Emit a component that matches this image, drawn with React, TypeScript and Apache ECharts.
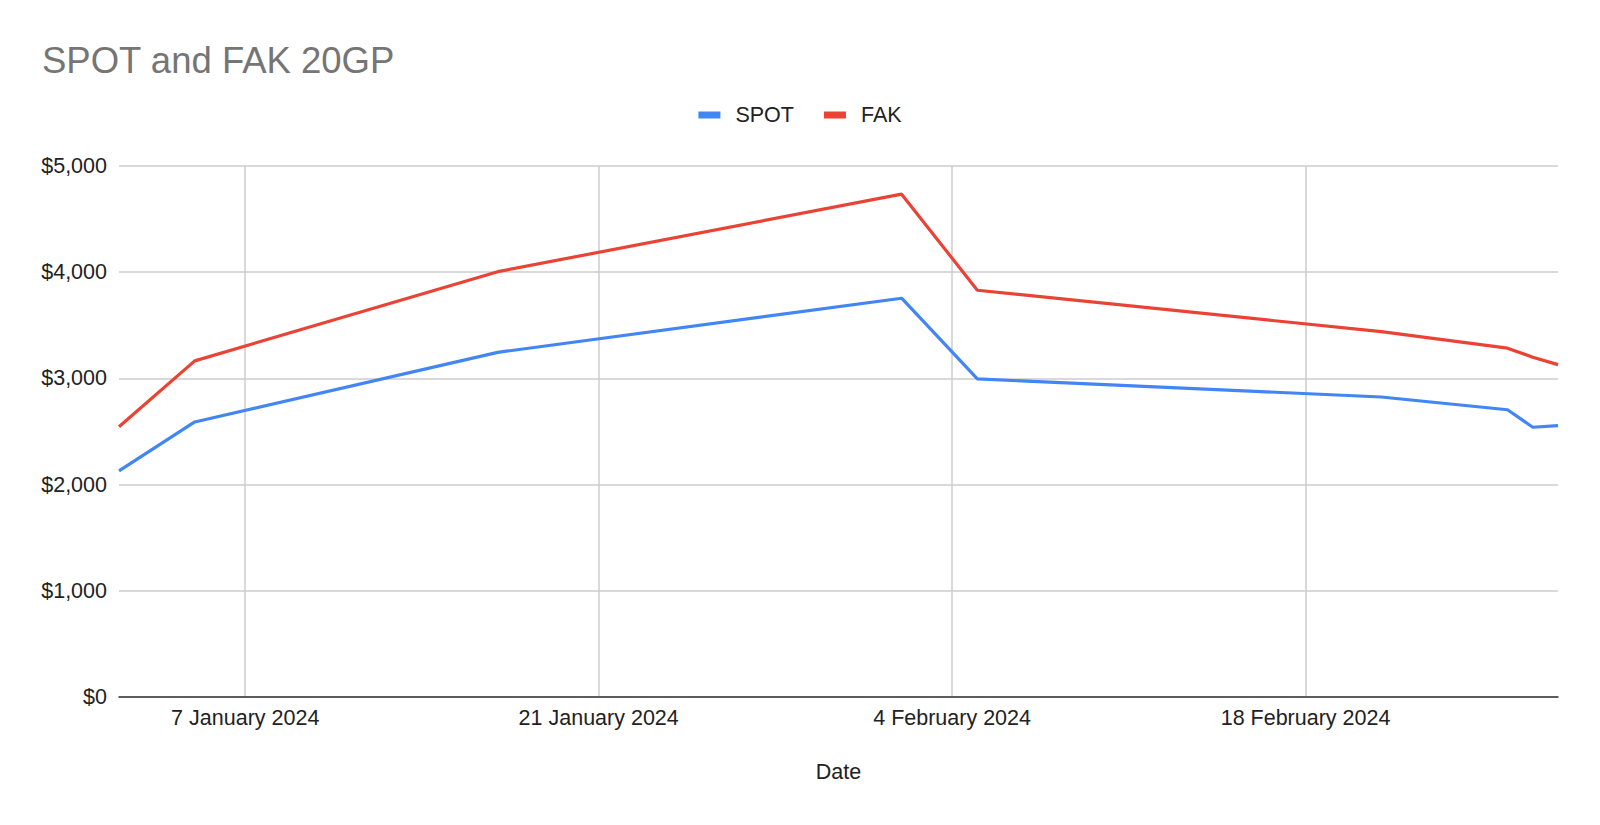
import React, { useEffect, useRef } from "react";
import * as echarts from "echarts";

const FONT = "'Liberation Sans', Arial, sans-serif";

// one category per day, first and last day of the axis
const FIRST_DAY = "2024-01-02";
const LAST_DAY = "2024-02-28";

const POINT_DATES = [
  "2024-01-02", "2024-01-05", "2024-01-17", "2024-02-02", "2024-02-05",
  "2024-02-21", "2024-02-26", "2024-02-27", "2024-02-28",
];
const SPOT = [2130, 2590, 3245, 3755, 2995, 2825, 2705, 2540, 2555];
const FAK = [2545, 3165, 4005, 4735, 3830, 3440, 3285, 3200, 3130];

const TICK_DATES = ["2024-01-07", "2024-01-21", "2024-02-04", "2024-02-18"];
const TICK_LABELS = ["7 January 2024", "21 January 2024", "4 February 2024", "18 February 2024"];

function dayList(from: string, to: string) {
  const out: string[] = [];
  const d = new Date(from + "T00:00:00Z");
  const end = new Date(to + "T00:00:00Z");
  while (d <= end) {
    out.push(d.toISOString().slice(0, 10));
    d.setUTCDate(d.getUTCDate() + 1);
  }
  return out;
}

const isTick = (_i: number, value: string) => TICK_DATES.indexOf(value) >= 0;

export default function App() {
  const ref = useRef<HTMLDivElement>(null);

  useEffect(() => {
    document.body.style.margin = "0";
    if (!ref.current) return;
    const chart = echarts.init(ref.current, undefined, { renderer: "svg" });
    const days = dayList(FIRST_DAY, LAST_DAY);

    chart.setOption({
      animation: false,
      backgroundColor: "#ffffff",
      title: {
        text: "SPOT and FAK 20GP",
        left: 37,
        top: 37,
        textStyle: { color: "#757575", fontSize: 36.5, fontWeight: "normal", fontFamily: FONT },
      },
      legend: {
        top: 99,
        left: "center",
        itemWidth: 22,
        itemHeight: 7,
        itemGap: 30,
        icon: "rect",
        textStyle: { color: "#222", fontSize: 21.5, fontFamily: FONT, padding: [0, 0, 0, 10] },
        data: ["SPOT", "FAK"],
      },
      grid: { left: 119, right: 42, top: 166, bottom: 128, containLabel: false },
      xAxis: {
        type: "category",
        data: days,
        boundaryGap: false,
        name: "Date",
        nameLocation: "middle",
        nameGap: 64,
        nameTextStyle: { color: "#222", fontSize: 21.5, fontFamily: FONT },
        axisLine: { lineStyle: { color: "#333", width: 1.5 } },
        axisTick: { show: false, interval: isTick },
        axisLabel: {
          interval: isTick,
          margin: 10,
          color: "#222",
          fontSize: 21.5,
          fontFamily: FONT,
          formatter: (v: string) => TICK_LABELS[TICK_DATES.indexOf(v)] ?? "",
        },
        splitLine: { show: true, interval: isTick, lineStyle: { color: "#cccccc", width: 1.5 } },
      },
      yAxis: {
        type: "value",
        min: 0,
        max: 5000,
        interval: 1000,
        axisLine: { show: false },
        axisTick: { show: false },
        axisLabel: {
          margin: 12,
          color: "#222",
          fontSize: 21.5,
          fontFamily: FONT,
          formatter: (v: number) => "$" + v.toLocaleString("en-US"),
        },
        splitLine: { lineStyle: { color: "#cccccc", width: 1.5 } },
      },
      series: [
        {
          name: "SPOT",
          type: "line",
          showSymbol: false,
          color: "#4285f4",
          lineStyle: { width: 3.2, color: "#4285f4" },
          data: POINT_DATES.map((d, i) => [d, SPOT[i]]),
        },
        {
          name: "FAK",
          type: "line",
          showSymbol: false,
          color: "#ea4335",
          lineStyle: { width: 3.2, color: "#ea4335" },
          data: POINT_DATES.map((d, i) => [d, FAK[i]]),
        },
      ],
    });

    return () => chart.dispose();
  }, []);

  return <div ref={ref} style={{ width: 1600, height: 825 }} />;
}
